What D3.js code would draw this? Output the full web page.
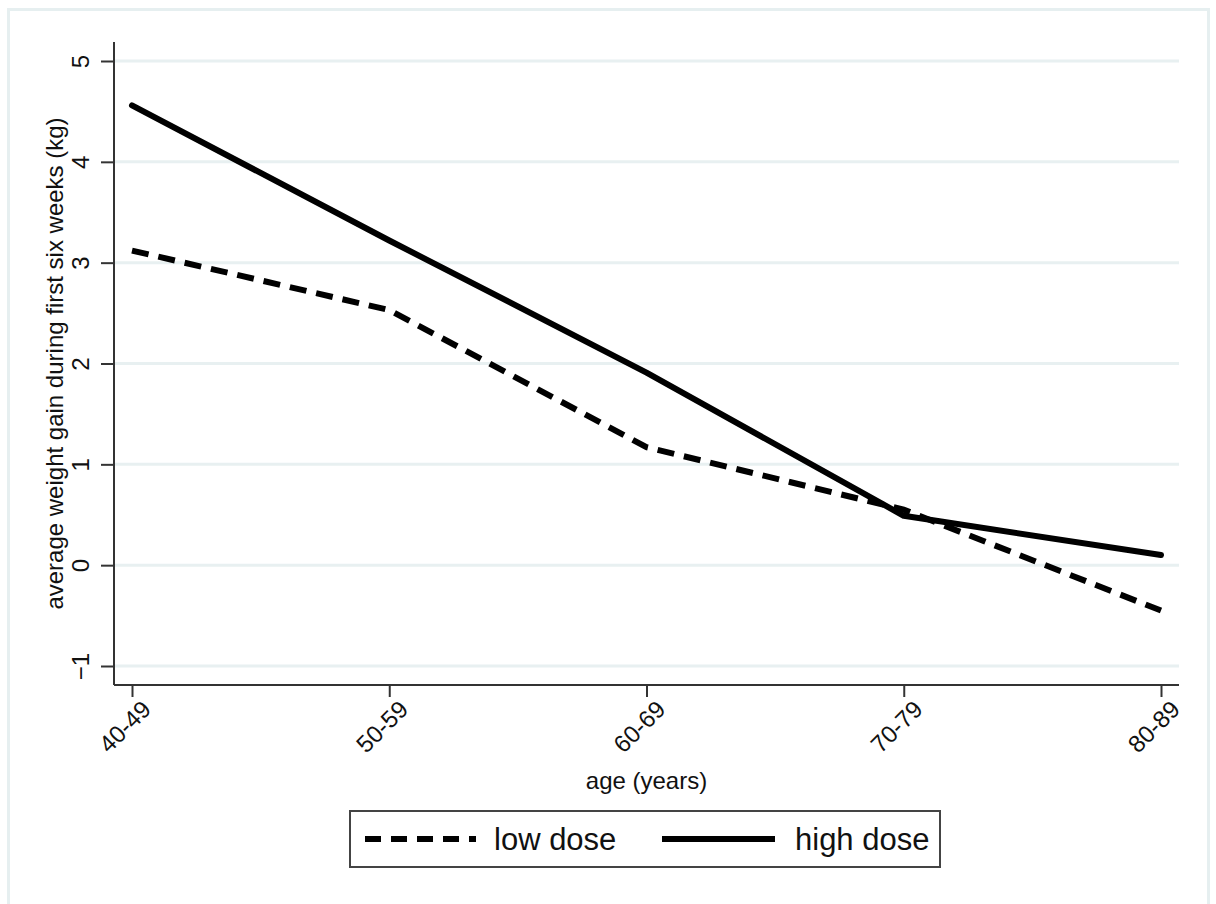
<!DOCTYPE html>
<html><head><meta charset="utf-8">
<script src="https://cdn.jsdelivr.net/npm/d3@7"></script>
<style>html,body{margin:0;padding:0;background:#fff;}svg{display:block;font-family:"Liberation Sans",Arial,sans-serif;}</style>
</head><body>
<svg id="chart" width="1216" height="904"></svg>
<script>
const categories = ["40-49","50-59","60-69","70-79","80-89"];
const lowDose  = [3.12, 2.53, 1.17, 0.55, -0.45];
const highDose = [4.56, 3.22, 1.91, 0.49, 0.10];
const yTicks = [-1, 0, 1, 2, 3, 4, 5];
const seriesNames = ["low dose", "high dose"];

(function(){
const svg = d3.select("#chart");
const W = 1216, H = 904;
svg.append("rect").attr("x",0).attr("y",0).attr("width",W).attr("height",H).attr("fill","#fff");
// outer frame
svg.append("rect").attr("x",8.5).attr("y",9.5).attr("width",1200).attr("height",905)
  .attr("fill","none").attr("stroke","#e6eff0").attr("stroke-width",3);

const pL = 114, pR = 1179, pT = 42, pB = 685;
const x = d3.scalePoint().domain(categories).range([132, 1161]);
const y = d3.scaleLinear().domain([-1, 5]).range([666, 61]);

// grid
svg.append("g").selectAll("line").data(yTicks).join("line")
  .attr("x1", pL).attr("x2", pR)
  .attr("y1", d => y(d)).attr("y2", d => y(d))
  .attr("stroke", "#e8f0f1").attr("stroke-width", 3);

// y axis
const yAxis = svg.append("g").attr("transform", `translate(${pL},0)`)
  .call(d3.axisLeft(y).tickValues(yTicks).tickSize(13).tickFormat(d3.format("d")));
yAxis.select(".domain").attr("d", `M0,${pT}V${pB}`).attr("stroke","#333").attr("stroke-width",2);
yAxis.selectAll(".tick line").attr("stroke","#333").attr("stroke-width",2);
yAxis.selectAll(".tick text")
  .attr("font-size", 24).attr("fill","#111")
  .attr("text-anchor","middle")
  .attr("x", 0).attr("y", 0).attr("dy", "0")
  .attr("transform", "translate(-25,0) rotate(-90)");

// x axis
const xAxis = svg.append("g").attr("transform", `translate(0,${pB})`)
  .call(d3.axisBottom(x).tickSize(12));
xAxis.select(".domain").attr("d", `M${pL},0H${pR}`).attr("stroke","#333").attr("stroke-width",2);
xAxis.selectAll(".tick line").attr("stroke","#333").attr("stroke-width",2);
xAxis.selectAll(".tick text")
  .attr("font-size", 24).attr("fill","#111")
  .attr("text-anchor","end")
  .attr("x", 0).attr("y", 0).attr("dy", "0.7em")
  .attr("transform", "translate(8,14) rotate(-45)");

// axis titles
svg.append("text").attr("x", (pL+pR)/2).attr("y", 789)
  .attr("text-anchor","middle").attr("font-size", 24).attr("fill","#111")
  .text("age (years)");
svg.append("text").attr("transform", `translate(63,${(y(-1)+y(5))/2}) rotate(-90)`)
  .attr("text-anchor","middle").attr("font-size", 24).attr("fill","#111")
  .text("average weight gain during first six weeks (kg)");

// lines
const line = d3.line().x((d,i) => x(categories[i])).y(d => y(d));
svg.append("path").datum(lowDose).attr("d", line)
  .attr("fill","none").attr("stroke","#000").attr("stroke-width",6)
  .attr("stroke-dasharray","17,10");
svg.append("path").datum(highDose).attr("d", line)
  .attr("fill","none").attr("stroke","#000").attr("stroke-width",6)
  .attr("stroke-linecap","round").attr("stroke-linejoin","round");

// legend
const lg = svg.append("g");
lg.append("rect").attr("x",350).attr("y",811).attr("width",590).attr("height",56)
  .attr("fill","#fff").attr("stroke","#444").attr("stroke-width",2);
lg.append("line").attr("x1",365).attr("x2",476).attr("y1",839).attr("y2",839)
  .attr("stroke","#000").attr("stroke-width",6).attr("stroke-dasharray","16,10");
lg.append("line").attr("x1",662).attr("x2",775).attr("y1",839).attr("y2",839)
  .attr("stroke","#000").attr("stroke-width",6);
lg.append("text").attr("x",494).attr("y",850).attr("font-size",31).attr("fill","#111").text(seriesNames[0]);
lg.append("text").attr("x",795).attr("y",850).attr("font-size",31).attr("fill","#111").text(seriesNames[1]);
})();
</script>
</body></html>
